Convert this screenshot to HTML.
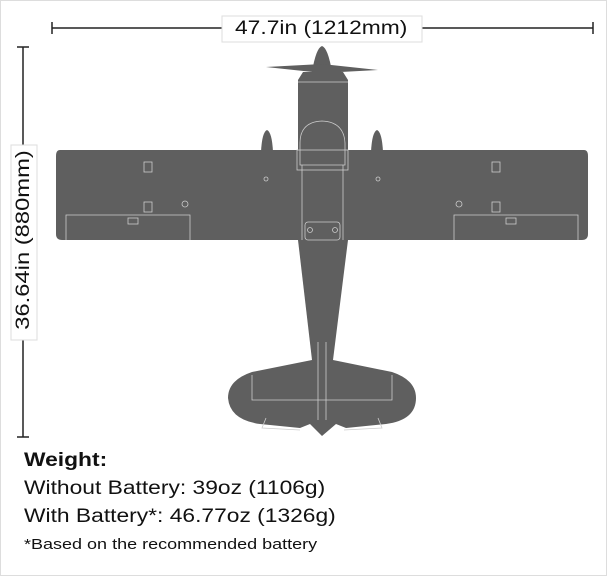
<!DOCTYPE html>
<html><head><style>
body{margin:0;background:#fff;}
.f{position:absolute;left:0;top:0;width:605px;height:574px;border:1px solid #ddd;}
.t{position:absolute;font-family:"Liberation Sans",sans-serif;color:#111;white-space:nowrap;transform-origin:left top;transform:scaleX(1.2);}
</style></head><body>
<div class="f"></div>
<svg width="607" height="576" style="position:absolute;left:0;top:0">
<g stroke="#222" stroke-width="1.5">
<line x1="52" y1="28" x2="593" y2="28"/><line x1="52" y1="22" x2="52" y2="34"/><line x1="593" y1="22" x2="593" y2="34"/>
<line x1="23" y1="47" x2="23" y2="437"/><line x1="17" y1="47" x2="29" y2="47"/><line x1="17" y1="437" x2="29" y2="437"/>
</g>
<rect x="222" y="16" width="200" height="26" fill="#fff" stroke="#ddd"/>
<rect x="11" y="145" width="26" height="195" fill="#fff" stroke="#ddd"/>
<g fill="#5f5f5f">
<path d="M312 72 Q316 48 322 46 Q328 48 332 72Z"/>
<path d="M266 67 L322 64 L378 70 L322 73Z"/>
<path d="M261 152 Q262 132 267 130 Q272 132 273 152Z"/>
<path d="M371 152 Q372 132 377 130 Q382 132 383 152Z"/>
<path d="M303 72 L343 72 L348 80 L348 240 L333 360 L312 360 L298 240 L298 80Z"/>
<path d="M60 150 L584 150 Q588 150 588 156 L588 234 Q588 240 582 240 L62 240 Q56 240 56 234 L56 156 Q56 150 60 150Z"/>
<path d="M312 360 L252 372 Q228 380 228 398 Q230 420 260 424 L300 428 L310 424 L322 436 L336 424 L346 428 L386 424 Q416 420 416 398 Q416 380 392 372 L333 360Z"/>
</g>
<g fill="none" stroke="#ccc" stroke-width="0.8">
<path d="M298 82 L348 82"/><path d="M300 143 Q300 122 322 121 Q344 122 345 143 L345 165 L300 165Z"/>
<rect x="297" y="150" width="51" height="20"/>
<path d="M302 165 L302 240 M343 165 L343 240"/>
<rect x="305" y="222" width="35" height="18" rx="3"/>
<path d="M318 342 L318 420 M326 342 L326 420"/>
<path d="M252 375 L252 400 L392 400 L392 375"/>
<path d="M66 240 L66 215 L190 215 L190 240 M454 240 L454 215 L578 215 L578 240"/>
<path d="M266 418 L262 428 L300 430 M378 418 L382 428 L344 430"/>
<rect x="144" y="162" width="8" height="10"/><rect x="492" y="162" width="8" height="10"/>
<rect x="144" y="202" width="8" height="10"/><rect x="492" y="202" width="8" height="10"/>
<rect x="128" y="218" width="10" height="6"/><rect x="506" y="218" width="10" height="6"/>
<circle cx="185" cy="204" r="3"/><circle cx="459" cy="204" r="3"/>
<circle cx="266" cy="179" r="2"/><circle cx="378" cy="179" r="2"/>
<circle cx="310" cy="230" r="2.5"/><circle cx="335" cy="230" r="2.5"/>
</g>
</svg>
<div class="t" style="left:235px;top:16px;font-size:19px;line-height:26px">47.7in (1212mm)</div>
<div style="position:absolute;left:24px;top:240px;width:0;height:0;">
<div style="position:absolute;left:0;top:0;transform:rotate(-90deg) scaleX(1.25);">
<div style="position:absolute;font-family:'Liberation Sans',sans-serif;color:#111;white-space:nowrap;font-size:19px;line-height:26px;transform:translate(-50%,-50%);">36.64in (880mm)</div></div></div>
<div class="t" style="left:24px;top:450px;font-size:19px;font-weight:bold">Weight:</div>
<div class="t" style="left:24px;top:478px;font-size:19px">Without Battery: 39oz (1106g)</div>
<div class="t" style="left:24px;top:506px;font-size:19px">With Battery*: 46.77oz (1326g)</div>
<div class="t" style="left:24px;top:536px;font-size:15px">*Based on the recommended battery</div>
</body></html>
